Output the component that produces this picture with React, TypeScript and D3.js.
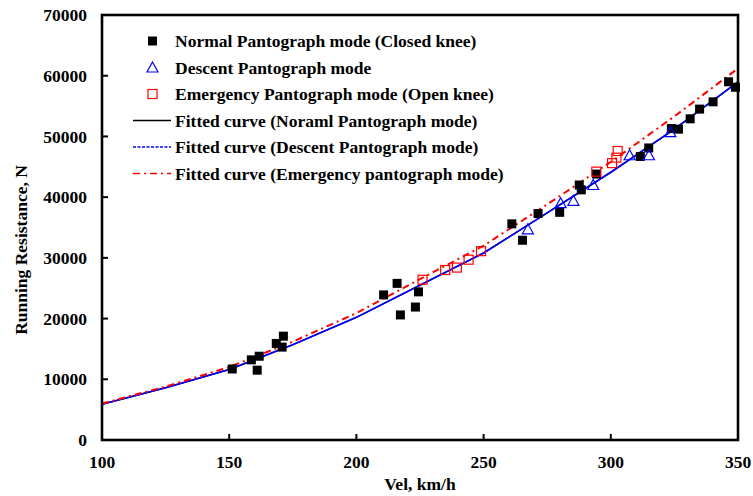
import React from 'react';
import * as d3 from 'd3';

// velocity (km/h), resistance (N)
const normalPts: [number, number][] = [
  [151.2, 11700], [158.7, 13200], [161, 11500], [161.8, 13800], [168.5, 15900],
  [170.8, 15300], [171.3, 17100], [210.7, 23900], [216, 25800], [217.3, 20600],
  [223.2, 21900], [224.4, 24400], [261.1, 35600], [265.3, 32900], [271.4, 37300],
  [279.9, 37500], [287.6, 42000], [288.4, 41200], [294.4, 43800], [311.6, 46700],
  [314.9, 48100], [323.8, 51300], [326.6, 51200], [331.2, 52900], [334.9, 54500],
  [340.2, 55700], [346.3, 59000], [349, 58100],
];
const descentPts: [number, number][] = [
  [267.4, 34700], [280.3, 39000], [285.3, 39400], [293.1, 42000],
  [307.4, 46900], [315, 46900], [323.4, 50700],
];
const emergencyPts: [number, number][] = [
  [226, 26400], [234.9, 28000], [239.5, 28400], [244.1, 29700], [249, 31100],
  [294.3, 44200], [300.5, 45600], [302.2, 46500], [302.7, 47600],
];
const fitNormal: [number, number][] = [
  [100, 5900], [125, 8600], [150, 11600], [175, 15700], [200, 20200], [225, 25500],
  [250, 30800], [275, 37400], [300, 44100], [325, 51200], [350, 59000],
];
const fitDescent = fitNormal;
const fitEmergency: [number, number][] = [
  [100, 6000], [125, 8800], [150, 12000], [175, 16200], [200, 20900], [225, 26500],
  [250, 32000], [275, 38800], [300, 45800], [325, 53300], [350, 61200],
];
const xTicks = [100, 150, 200, 250, 300, 350];
const yTicks = [0, 10000, 20000, 30000, 40000, 50000, 60000, 70000];
const legendLabels = [
  'Normal Pantograph mode (Closed knee)',
  'Descent Pantograph mode',
  'Emergency Pantograph mode (Open knee)',
  'Fitted curve (Noraml Pantograph mode)',
  'Fitted curve (Descent Pantograph mode)',
  'Fitted curve (Emergency pantograph mode)',
];

const W = 753;
const H = 496;
const m = { left: 102, right: 738, top: 15, bottom: 440 };
const font = '"Liberation Serif", "Times New Roman", serif';
const fs = 17.5;

export default function App() {
  const x = d3.scaleLinear().domain([100, 350]).range([m.left, m.right]);
  const y = d3.scaleLinear().domain([0, 70000]).range([m.bottom, m.top]);
  const line = d3.line<[number, number]>().x((d) => x(d[0])).y((d) => y(d[1]));

  const legendY = (i: number) => 41 + i * 26.5;

  return (
    <svg width={W} height={H} style={{ position: 'absolute', left: 0, top: 0 }} fontFamily={font}>
      <rect x={0} y={0} width={W} height={H} fill="#fff" />
      {/* fitted curves */}
      <path d={line(fitNormal) || ''} fill="none" stroke="#000" strokeWidth={1.5} />
      <path d={line(fitDescent) || ''} fill="none" stroke="#0000ff" strokeWidth={1.6} />
      <path d={line(fitEmergency) || ''} fill="none" stroke="#ff0000" strokeWidth={2}
        strokeDasharray="7,4,2,4" />
      {/* points */}
      {normalPts.map((d, i) => (
        <rect key={'n' + i} x={x(d[0]) - 4.5} y={y(d[1]) - 4.5} width={9} height={9} fill="#000" />
      ))}
      {descentPts.map((d, i) => {
        const cx = x(d[0]);
        const cy = y(d[1]);
        return (
          <path key={'d' + i} d={`M${cx},${cy - 5.5}L${cx + 5.5},${cy + 4.5}L${cx - 5.5},${cy + 4.5}Z`}
            fill="none" stroke="#0000ff" strokeWidth={1.2} />
        );
      })}
      {emergencyPts.map((d, i) => (
        <rect key={'e' + i} x={x(d[0]) - 4.5} y={y(d[1]) - 4.5} width={9} height={9}
          fill="none" stroke="#ff0000" strokeWidth={1.2} />
      ))}
      {/* axes frame */}
      <rect x={m.left} y={m.top} width={m.right - m.left} height={m.bottom - m.top}
        fill="none" stroke="#000" strokeWidth={2.6} />
      {xTicks.map((t) => (
        <g key={'xt' + t}>
          <line x1={x(t)} x2={x(t)} y1={m.bottom} y2={m.bottom - 6} stroke="#000" strokeWidth={2} />
          <text x={x(t)} y={m.bottom + 28} textAnchor="middle" fontSize={fs} fontWeight="bold">{t}</text>
        </g>
      ))}
      {yTicks.map((t) => (
        <g key={'yt' + t}>
          <line x1={m.left} x2={m.left + 6} y1={y(t)} y2={y(t)} stroke="#000" strokeWidth={2} />
          <text x={87} y={y(t)} dy="0.35em" textAnchor="end" fontSize={fs} fontWeight="bold">{t}</text>
        </g>
      ))}
      <text x={420} y={490} textAnchor="middle" fontSize={fs} fontWeight="bold">Vel, km/h</text>
      <text transform="translate(27,250) rotate(-90)" textAnchor="middle" fontSize={fs} fontWeight="bold">
        Running Resistance, N
      </text>
      {/* legend */}
      {legendLabels.map((lab, i) => {
        const ly = legendY(i);
        let sym: React.ReactNode = null;
        if (i === 0) sym = <rect x={148} y={ly - 4.5} width={9} height={9} fill="#000" />;
        if (i === 1) sym = <path d={`M152.5,${ly - 5.5}L158,${ly + 4.5}L147,${ly + 4.5}Z`} fill="none" stroke="#0000ff" strokeWidth={1.2} />;
        if (i === 2) sym = <rect x={148} y={ly - 4.5} width={9} height={9} fill="none" stroke="#ff0000" strokeWidth={1.2} />;
        if (i === 3) sym = <line x1={133} x2={171} y1={ly} y2={ly} stroke="#000" strokeWidth={1.5} />;
        if (i === 4) sym = <line x1={133} x2={171} y1={ly} y2={ly} stroke="#0000ff" strokeWidth={1.5} strokeDasharray="3,1.5" />;
        if (i === 5) sym = <line x1={133} x2={171} y1={ly} y2={ly} stroke="#ff0000" strokeWidth={1.5} strokeDasharray="7,4,2,4" />;
        return (
          <g key={'lg' + i}>
            {sym}
            <text x={175} y={ly} dy="0.35em" fontSize={fs} fontWeight="bold">{lab}</text>
          </g>
        );
      })}
    </svg>
  );
}
